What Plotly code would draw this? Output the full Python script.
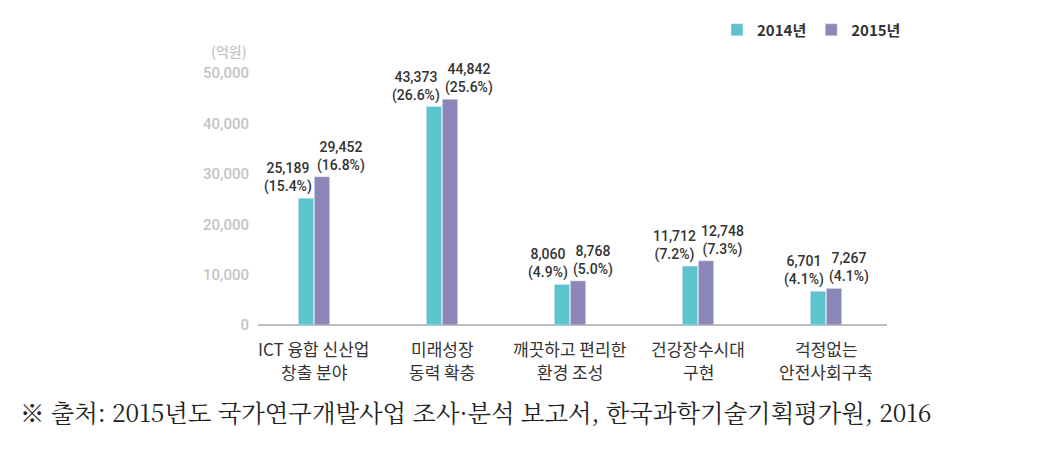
import plotly.graph_objects as go

categories_line1 = ["ICT 융합 신산업", "미래성장", "깨끗하고 편리한", "건강장수시대", "걱정없는"]
categories_line2 = ["창출 분야", "동력 확충", "환경 조성", "구현", "안전사회구축"]
values_2014 = [25189, 43373, 8060, 11712, 6701]
values_2015 = [29452, 44842, 8768, 12748, 7267]
pct_2014 = ["15.4%", "26.6%", "4.9%", "7.2%", "4.1%"]
pct_2015 = ["16.8%", "25.6%", "5.0%", "7.3%", "4.1%"]
series_names = ["2014년", "2015년"]
y_ticks = [0, 10000, 20000, 30000, 40000, 50000]
y_tick_labels = ["0", "10,000", "20,000", "30,000", "40,000", "50,000"]
unit_label = "(억원)"
source_note = "※ 출처: 2015년도 국가연구개발사업 조사·분석 보고서, 한국과학기술기획평가원, 2016"

C14 = "#5cc3cf"
C15 = "#8b87b8"
FONT = "Noto Sans CJK KR"
NUMFONT = "Roboto"

# plot area geometry (pixels)
L, R, T, B = 258, 887, 48, 325
PW, PH = R - L, B - T

def px_x(x):
    return (x - L) / PW

def px_y(y):
    return (B - y) / PH

x_idx = list(range(len(categories_line1)))

fig = go.Figure()
fig.add_trace(go.Bar(x=x_idx, y=values_2014, name=series_names[0], marker_color=C14,
                     width=0.12, offset=-0.125))
fig.add_trace(go.Bar(x=x_idx, y=values_2015, name=series_names[1], marker_color=C15,
                     width=0.12, offset=0.0))

for i in x_idx:
    fig.add_annotation(x=i, y=values_2014[i], xref="x", yref="y",
                       text=f"{values_2014[i]:,}<br>({pct_2014[i]})",
                       showarrow=False, xanchor="right", yanchor="bottom",
                       xshift=0, yshift=1, align="center",
                       font=dict(family=NUMFONT, size=14, color="#333333", weight=500))
    fig.add_annotation(x=i, y=values_2015[i], xref="x", yref="y",
                       text=f"{values_2015[i]:,}<br>({pct_2015[i]})",
                       showarrow=False, xanchor="left", yanchor="bottom",
                       xshift=1, yshift=1, align="center",
                       font=dict(family=NUMFONT, size=14, color="#333333", weight=500))
    fig.add_annotation(x=i, y=px_y(348), xref="x", yref="paper", text=categories_line1[i],
                       showarrow=False, xanchor="center", yanchor="middle",
                       font=dict(family=FONT, size=17, color="#333333"))
    fig.add_annotation(x=i, y=px_y(371), xref="x", yref="paper", text=categories_line2[i],
                       showarrow=False, xanchor="center", yanchor="middle",
                       font=dict(family=FONT, size=17, color="#333333"))

fig.add_annotation(x=px_x(249), y=px_y(51), xref="paper", yref="paper", text=unit_label,
                   showarrow=False, xanchor="right", yanchor="middle",
                   font=dict(family=FONT, size=14, color="#c4c4c4", weight=500))

fig.add_annotation(x=px_x(18), y=px_y(411), xref="paper", yref="paper",
                   text=source_note, showarrow=False, xanchor="left", yanchor="middle",
                   font=dict(family="Noto Serif CJK KR, DejaVu Serif, serif", size=24.4,
                             color="#222222"))

fig.update_layout(
    width=1057, height=467,
    margin=dict(l=L, r=1057 - R, t=T, b=467 - B, autoexpand=False),
    plot_bgcolor="white", paper_bgcolor="white",
    showlegend=True,
    legend=dict(orientation="h", x=px_x(717), y=px_y(30), xanchor="left", yanchor="middle",
                font=dict(family=FONT, size=15, color="#333333", weight=600),
                itemwidth=30, traceorder="normal", tracegroupgap=0),
    font=dict(family=FONT),
)

fig.update_xaxes(range=[-0.44, 4.474], tickmode="array", tickvals=x_idx,
                 showticklabels=False,
                 showgrid=False, zeroline=False, showline=False, ticks="")
fig.update_yaxes(range=[0, 55000], tickmode="array", tickvals=y_ticks, ticktext=y_tick_labels,
                 showgrid=False, zeroline=True, zerolinecolor="#bdbdbd", zerolinewidth=1.5,
                 showline=False, ticks="", ticklabelstandoff=8,
                 tickfont=dict(family=NUMFONT, size=15, color="#c4c4c4", weight=500))

fig.write_html("out.html", config={"displayModeBar": False},
               post_script="document.body.style.margin='0';document.body.style.padding='0';")
